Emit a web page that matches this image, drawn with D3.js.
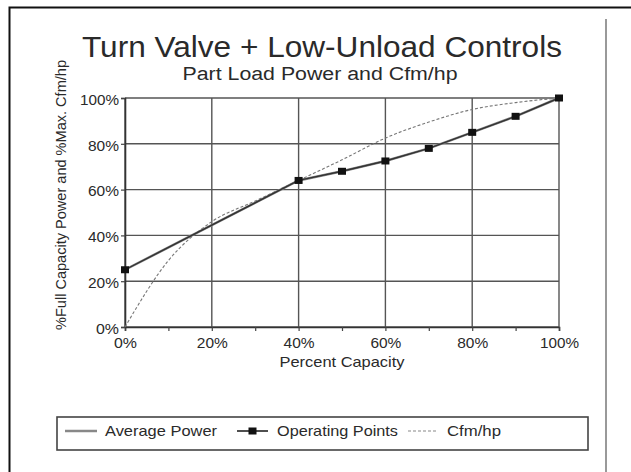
<!DOCTYPE html>
<html>
<head>
<meta charset="utf-8">
<script src="https://cdn.jsdelivr.net/npm/d3@7"></script>
<style>
  body { margin: 0; background: #fff; }
  text { font-family: "Liberation Sans", Arial, sans-serif; fill: #2a2a2a; }
</style>
</head>
<body>
<div id="chart"></div>
<script>
// values
var capacity = [0, 10, 20, 30, 40, 50, 60, 70, 80, 90, 100];
var cfmPerHp = [0, 29, 46, 55, 64, 73, 82.5, 89.5, 95, 98, 100];

var opCapacity = [0, 40, 50, 60, 70, 80, 90, 100];
var opPower = [25, 64, 68, 72.5, 78, 85, 92, 100];
var avgPower = [25, 64, 68, 72.5, 78, 85, 92, 100];

var xTicks = [0, 20, 40, 60, 80, 100];
var xMinorTicks = [10, 30, 50, 70, 90];
var yTicks = [0, 20, 40, 60, 80, 100];

var legendNames = ["Average Power", "Operating Points", "Cfm/hp"];

var width = 631, height = 472;
var margin = {top: 98, right: 72, bottom: 145, left: 125};

var svg = d3.select("#chart").append("svg")
    .attr("width", width)
    .attr("height", height);

// outer frame (left + top only, the rest is cropped off)
svg.append("path")
    .attr("d", "M9.5,472 V7.5 H631")
    .attr("fill", "none")
    .attr("stroke", "#111")
    .attr("stroke-width", 2);

// inner right edge line
svg.append("line")
    .attr("x1", 606).attr("x2", 606)
    .attr("y1", 19).attr("y2", 472)
    .attr("stroke", "#777")
    .attr("stroke-width", 1.5);

// titles (the scan is stretched sideways, so widths are fixed with textLength)
svg.append("text")
    .attr("x", 322).attr("y", 57)
    .attr("text-anchor", "middle")
    .attr("textLength", 480)
    .attr("lengthAdjust", "spacingAndGlyphs")
    .style("font-size", "30px")
    .text("Turn Valve + Low-Unload Controls");

svg.append("text")
    .attr("x", 320).attr("y", 80)
    .attr("text-anchor", "middle")
    .attr("textLength", 275)
    .attr("lengthAdjust", "spacingAndGlyphs")
    .style("font-size", "18px")
    .text("Part Load Power and Cfm/hp");

var plotW = width - margin.left - margin.right;   // 434
var plotH = height - margin.top - margin.bottom;  // 229

var x = d3.scaleLinear().domain([0, 100]).range([0, plotW]);
var y = d3.scaleLinear().domain([0, 100]).range([plotH, 0]);

var g = svg.append("g")
    .attr("transform", "translate(" + margin.left + "," + margin.top + ")");

// gridlines
g.selectAll(".hgrid")
    .data(yTicks)
    .enter().append("line")
    .attr("class", "hgrid")
    .attr("x1", 0).attr("x2", plotW)
    .attr("y1", function(d){ return y(d); })
    .attr("y2", function(d){ return y(d); })
    .attr("stroke", "#555")
    .attr("stroke-width", 1.4);

g.selectAll(".vgrid")
    .data(xTicks)
    .enter().append("line")
    .attr("class", "vgrid")
    .attr("y1", 0).attr("y2", plotH)
    .attr("x1", function(d){ return x(d); })
    .attr("x2", function(d){ return x(d); })
    .attr("stroke", "#555")
    .attr("stroke-width", 1.4);

// axes
var xAxis = d3.axisBottom(x)
    .tickValues(xTicks)
    .tickSize(4)
    .tickFormat(function(d){ return d + "%"; });

var gx = g.append("g")
    .attr("transform", "translate(0," + plotH + ")")
    .call(xAxis);

g.append("g")
    .attr("transform", "translate(0," + plotH + ")")
    .call(d3.axisBottom(x).tickValues(xMinorTicks).tickSize(4).tickFormat(""))
    .select(".domain").remove();

var gy = g.append("g")
    .call(d3.axisLeft(y)
        .tickValues(yTicks)
        .tickSize(4)
        .tickFormat(function(d){ return d + "%"; }));

svg.selectAll(".domain").attr("stroke", "#333").attr("stroke-width", 1.6);
svg.selectAll(".tick line").attr("stroke", "#444").attr("stroke-width", 1.2);
svg.selectAll(".tick text")
    .style("font-size", "14px")
    .style("font-family", "'Liberation Sans', Arial, sans-serif")
    .attr("fill", "#2a2a2a")
    .attr("lengthAdjust", "spacingAndGlyphs")
    .attr("textLength", function(d){ return d === 100 ? 39 : (d === 0 ? 23 : 31); });
gx.selectAll(".tick text").attr("dy", "1.0em");
gy.selectAll(".tick text").attr("x", -6).attr("dy", "0.45em");

// axis titles
g.append("text")
    .attr("x", plotW / 2).attr("y", plotH + 40)
    .attr("text-anchor", "middle")
    .attr("textLength", 125)
    .attr("lengthAdjust", "spacingAndGlyphs")
    .style("font-size", "15px")
    .text("Percent Capacity");

svg.append("text")
    .attr("transform", "translate(66,195) rotate(-90)")
    .attr("text-anchor", "middle")
    .attr("textLength", 270)
    .attr("lengthAdjust", "spacingAndGlyphs")
    .style("font-size", "14px")
    .text("%Full Capacity Power and %Max. Cfm/hp");

// series
var cfmLine = d3.line()
    .x(function(d, i){ return x(capacity[i]); })
    .y(function(d){ return y(d); })
    .curve(d3.curveMonotoneX);

var opLine = d3.line()
    .x(function(d, i){ return x(opCapacity[i]); })
    .y(function(d){ return y(d); });

g.append("path")
    .datum(avgPower)
    .attr("d", opLine)
    .attr("fill", "none")
    .attr("stroke", "#888")
    .attr("stroke-width", 2.5);

g.append("path")
    .datum(cfmPerHp)
    .attr("d", cfmLine)
    .attr("fill", "none")
    .attr("stroke", "#777")
    .attr("stroke-width", 1.1)
    .attr("stroke-dasharray", "3,2");

g.append("path")
    .datum(opPower)
    .attr("d", opLine)
    .attr("fill", "none")
    .attr("stroke", "#333")
    .attr("stroke-width", 1.4);

g.selectAll(".opPoint")
    .data(opPower)
    .enter().append("rect")
    .attr("class", "opPoint")
    .attr("x", function(d, i){ return x(opCapacity[i]) - 4; })
    .attr("y", function(d){ return y(d) - 3.5; })
    .attr("width", 8)
    .attr("height", 7)
    .attr("fill", "#111");

// legend
var legend = svg.append("g");
legend.append("rect")
    .attr("x", 57).attr("y", 417)
    .attr("width", 531).attr("height", 33)
    .attr("fill", "none")
    .attr("stroke", "#444")
    .attr("stroke-width", 1.6);

var legendItems = [
    {name: legendNames[0], x1: 65, x2: 97, tx: 105, w: 112},
    {name: legendNames[1], x1: 237, x2: 268, tx: 277, w: 121},
    {name: legendNames[2], x1: 408, x2: 438, tx: 447, w: 54}
];

legend.append("line")
    .attr("x1", legendItems[0].x1).attr("x2", legendItems[0].x2)
    .attr("y1", 431).attr("y2", 431)
    .attr("stroke", "#888").attr("stroke-width", 2.5);

legend.append("line")
    .attr("x1", legendItems[1].x1).attr("x2", legendItems[1].x2)
    .attr("y1", 431).attr("y2", 431)
    .attr("stroke", "#222").attr("stroke-width", 1.6);
legend.append("rect")
    .attr("x", (legendItems[1].x1 + legendItems[1].x2) / 2 - 4)
    .attr("y", 427.5).attr("width", 8).attr("height", 7)
    .attr("fill", "#111");

legend.append("line")
    .attr("x1", legendItems[2].x1).attr("x2", legendItems[2].x2)
    .attr("y1", 431).attr("y2", 431)
    .attr("stroke", "#888").attr("stroke-width", 1.1)
    .attr("stroke-dasharray", "3,2");

legend.selectAll(".ltext")
    .data(legendItems)
    .enter().append("text")
    .attr("x", function(d){ return d.tx; })
    .attr("y", 436)
    .attr("textLength", function(d){ return d.w; })
    .attr("lengthAdjust", "spacingAndGlyphs")
    .style("font-size", "15px")
    .text(function(d){ return d.name; });
</script>
</body>
</html>
